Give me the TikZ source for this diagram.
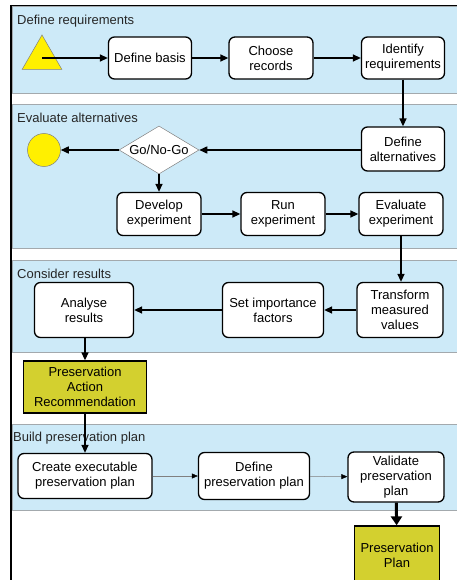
\documentclass[tikz,border=0pt]{standalone}
\usepackage{fontspec}
\setmainfont{Liberation Sans}
\usetikzlibrary{arrows.meta, shapes.geometric, backgrounds}
\definecolor{lanebg}{HTML}{CDEAF8}
\definecolor{laneln}{HTML}{A3A9AD}
\definecolor{startcol}{HTML}{FFF000}
\definecolor{doccol}{HTML}{D3D02F}
\tikzset{
  txt/.style={font=\fontsize{13}{15}\selectfont},
  act/.style={txt, draw=black, line width=1.3pt, fill=white,
              rounded corners=6pt, align=center, inner sep=2pt},
  doc/.style={txt, draw=black, line width=1.3pt, fill=doccol,
              align=center, inner sep=2pt},
  lane/.style={fill=lanebg, draw=laneln, line width=0.7pt},
  ltit/.style={txt, anchor=west, inner sep=1pt, text=black!85},
  ar/.style={-{Triangle[length=8pt, width=7pt]}, line width=1.4pt},
  tar/.style={-{Triangle[length=6pt, width=5pt, color=black]},
              line width=0.5pt, draw=gray},
  bar/.style={-{Triangle[length=9pt, width=11pt]}, line width=3pt},
}

\begin{document}
\begin{tikzpicture}[x=1pt, y=-1pt]
\useasboundingbox (0,0) rectangle (457,580);

%% ============================================================
%% LANES
%% ============================================================
\draw[lane] (12,6)   rectangle (462,93);
\draw[lane] (12,104) rectangle (462,248);
\draw[lane] (12,260) rectangle (462,352);
\draw[lane] (12,424) rectangle (462,510);

\node[ltit] (t1) at (16,21)  {Define requirements};
\node[ltit] (t2) at (16,118) {Evaluate alternatives};
\node[ltit] (t3) at (16,274) {Consider results};
\node[ltit] (t4) at (12,438) {Build preservation plan};

%% frame
\draw[line width=0.8pt] (11,5) -- (462,5);
\draw[line width=1.6pt] (11,5) -- (11,584);

%% --- 1. DEFINE REQUIREMENTS ---  row at y = 58
\node[regular polygon, regular polygon sides=3, minimum size=46pt,
      inner sep=0pt, fill=startcol, draw=gray, line width=0.5pt]
      (start) at (42,58) {};
\node[act, minimum width=83pt, minimum height=42pt] (basis)   at (150,58) {Define basis};
\node[act, minimum width=84pt, minimum height=42pt] (records) at (271,58) {Choose\\records};
\node[act, minimum width=83pt, minimum height=42pt] (ident)   at (403,58) {Identify\\requirements};

\draw[ar] (start.center) -- (basis);
\draw[ar] (basis) -- (records);
\draw[ar] (records) -- (ident);

%% --- 2. EVALUATE ALTERNATIVES ---  rows at y = 150 / 214
\node[act, minimum width=83pt, minimum height=44pt] (alts) at (403,149) {Define\\alternatives};
\node[diamond, aspect=1.65, minimum width=80pt, minimum height=48pt, inner sep=0pt,
      fill=white, draw=gray, line width=0.5pt, txt] (gonogo) at (159,150) {Go/No-Go};
\node[circle, minimum size=33pt, inner sep=0pt, fill=startcol,
      draw=gray, line width=0.5pt] (stop) at (44,150) {};

\node[act, minimum width=84pt, minimum height=43pt] (devexp) at (159,214) {Develop\\experiment};
\node[act, minimum width=84pt, minimum height=43pt] (runexp) at (283,214) {Run\\experiment};
\node[act, minimum width=84pt, minimum height=43pt] (evlexp) at (401,214) {Evaluate\\experiment};

\draw[ar] (ident) -- (alts);
\draw[ar] (alts.west |- gonogo.east) -- (gonogo.east);
\draw[ar] (gonogo) -- (stop);
\draw[ar] (gonogo) -- (devexp);
\draw[ar] (devexp) -- (runexp);
\draw[ar] (runexp) -- (evlexp);

%% --- 3. CONSIDER RESULTS ---  row at y = 310
\node[act, minimum width=86pt,  minimum height=55pt] (transf) at (400,310) {Transform\\measured\\values};
\node[act, minimum width=101pt, minimum height=55pt] (impfac) at (273,310) {Set importance\\factors};
\node[act, minimum width=99pt,  minimum height=55pt] (analys) at (84,310)  {Analyse\\results};

\draw[ar] (evlexp.south) -- (evlexp.south |- transf.north);
\draw[ar] (transf) -- (impfac);
\draw[ar] (impfac) -- (analys);

\node[doc, minimum width=123pt, minimum height=52pt] (parec) at (85,387)
  {Preservation\\Action\\Recommendation};
\draw[ar] (analys.south -| parec.north) -- (parec.north);

%% --- 4. BUILD PRESERVATION PLAN ---  row at y = 476
\node[act, minimum width=134pt, minimum height=45pt] (create) at (85,476)  {Create executable\\preservation plan};
\node[act, minimum width=111pt, minimum height=47pt] (defpln) at (254,476) {Define\\preservation plan};
\node[act, minimum width=96pt,  minimum height=50pt] (valpln) at (396,477) {Validate\\preservation\\plan};

\draw[ar]  (parec) -- (create);
\draw[tar] (create) -- (defpln);
\draw[tar] (defpln) -- (valpln);

\node[doc, minimum width=85pt, minimum height=58pt] (prplan) at (397,555) {Preservation\\Plan};
\draw[bar] (valpln) -- (prplan);

\end{tikzpicture}
\end{document}
